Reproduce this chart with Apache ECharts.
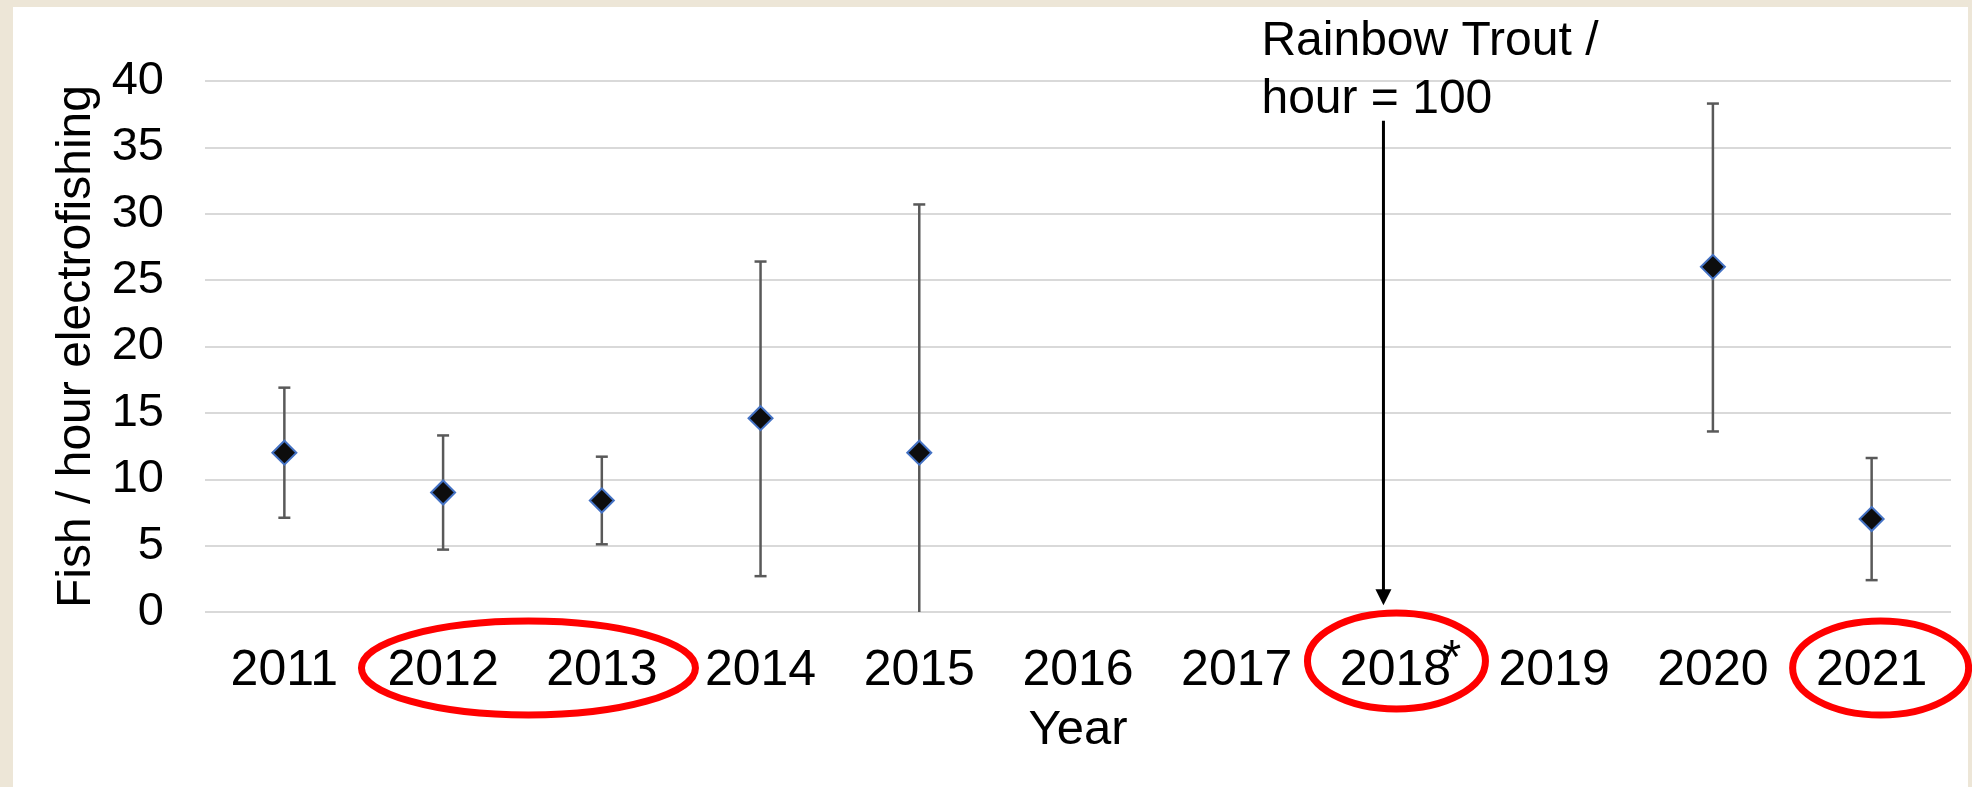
<!DOCTYPE html>
<html>
<head>
<meta charset="utf-8">
<script src="https://cdn.jsdelivr.net/npm/echarts@6/dist/echarts.min.js"></script>
<style>
  html, body { margin: 0; padding: 0; }
  #chart { width: 1972px; height: 787px; }
</style>
</head>
<body>
<div id="chart"></div>
<script>
// data
var years = ['2011', '2012', '2013', '2014', '2015', '2016', '2017', '2018', '2019', '2020', '2021'];
var meanCatch  = [12.0, 9.0, 8.4, 14.6, 12.0, null, null, null, null, 26.0, 7.0];
var upperCatch = [16.9, 13.3, 11.7, 26.4, 30.7, null, null, null, null, 38.3, 11.6];
var lowerCatch = [7.1, 4.7, 5.1, 2.7, 0, null, null, null, null, 13.6, 2.4];
var yMin = 0, yMax = 40, yStep = 5;
var noteYear = '2018';
var noteValue = 37;
var noteText = 'Rainbow Trout /\nhour = 100';

var FONT = '"Liberation Sans", Arial, sans-serif';

var chart = echarts.init(document.getElementById('chart'));

var errorData = [];
years.forEach(function (y, i) {
  if (meanCatch[i] != null) errorData.push([i, lowerCatch[i], upperCatch[i]]);
});

var option = {
  backgroundColor: '#ede6d7',
  animation: false,
  textStyle: { fontFamily: FONT, color: '#000' },
  grid: { left: 205, right: 21, top: 81, bottom: 175 },
  xAxis: {
    type: 'category',
    data: years,
    name: 'Year',
    nameLocation: 'middle',
    nameGap: 94,
    nameTextStyle: { fontSize: 49, color: '#000', fontFamily: FONT },
    axisLine: { show: false },
    axisTick: { show: false },
    axisLabel: { fontSize: 50, color: '#000', margin: 34, interval: 0, fontFamily: FONT }
  },
  yAxis: {
    type: 'value',
    min: yMin,
    max: yMax,
    interval: yStep,
    name: 'Fish / hour electrofishing',
    nameLocation: 'middle',
    nameGap: 103,
    nameTextStyle: { fontSize: 48, color: '#000', fontFamily: FONT },
    axisLine: { show: false },
    axisTick: { show: false },
    axisLabel: { fontSize: 47, color: '#000', margin: 41, fontFamily: FONT },
    splitLine: { lineStyle: { color: '#d9d9d9', width: 2 } }
  },
  series: [
    {
      type: 'custom',
      name: 'range',
      data: errorData,
      encode: { x: 0, y: [1, 2] },
      z: 3,
      renderItem: function (params, api) {
        var i = api.value(0);
        var lo = api.value(1);
        var hi = api.value(2);
        var top = api.coord([i, hi]);
        var bot = api.coord([i, lo]);
        var cap = 6;
        var st = { stroke: '#595959', lineWidth: 2.5 };
        var kids = [
          { type: 'line', shape: { x1: top[0], y1: top[1], x2: bot[0], y2: bot[1] }, style: st },
          { type: 'line', shape: { x1: top[0] - cap, y1: top[1], x2: top[0] + cap, y2: top[1] }, style: st }
        ];
        if (lo > 0) {
          kids.push({ type: 'line', shape: { x1: bot[0] - cap, y1: bot[1], x2: bot[0] + cap, y2: bot[1] }, style: st });
        }
        return { type: 'group', children: kids };
      }
    },
    {
      type: 'scatter',
      name: 'mean',
      data: meanCatch.map(function (v) { return v == null ? '-' : v; }),
      symbol: 'diamond',
      symbolSize: 24,
      z: 5,
      itemStyle: { color: '#0d0d0d', borderColor: '#4472c4', borderWidth: 2, opacity: 1 }
    }
  ]
};

chart.setOption(option);

// annotations placed through the chart's own scales
var px = function (cat, val) { return chart.convertToPixel({ gridIndex: 0 }, [cat, val]); };
var noteTop = px(noteYear, noteValue);
var noteTip = px(noteYear, 0.5);
var arrowX = noteTop[0] - 12;
var base = px(years[0], 0)[1];
var p12 = px('2012', 0), p13 = px('2013', 0), p18 = px('2018', 0), p21 = px('2021', 0);
var ring = { fill: 'none', stroke: '#ff0000', lineWidth: 7 };

chart.setOption({
  graphic: [
    { type: 'rect', silent: true, z: -10, shape: { x: 13, y: 7, width: 1955, height: 790 }, style: { fill: '#ffffff' } },
    { type: 'line', silent: true, z: 10, shape: { x1: arrowX, y1: noteTop[1], x2: arrowX, y2: noteTip[1] - 14 }, style: { stroke: '#000', lineWidth: 3 } },
    { type: 'polygon', silent: true, z: 10, shape: { points: [[arrowX - 8, noteTip[1] - 16], [arrowX + 8, noteTip[1] - 16], [arrowX, noteTip[1]]] }, style: { fill: '#000' } },
    { type: 'text', silent: true, z: 10, x: arrowX - 122, y: 13, style: { text: noteText, font: '48px ' + FONT, lineHeight: 58, fill: '#000', textVerticalAlign: 'top' } },
    { type: 'text', silent: true, z: 10, x: p18[0] + 47, y: 636, style: { text: '*', font: '48px ' + FONT, fill: '#000', textVerticalAlign: 'top' } },
    { type: 'ellipse', silent: true, z: 10, shape: { cx: (p12[0] + p13[0]) / 2 + 6, cy: base + 56, rx: 167, ry: 47 }, style: ring },
    { type: 'ellipse', silent: true, z: 10, shape: { cx: p18[0] + 1, cy: base + 49, rx: 89, ry: 48 }, style: ring },
    { type: 'ellipse', silent: true, z: 10, shape: { cx: p21[0] + 9, cy: base + 56, rx: 88, ry: 47 }, style: ring }
  ]
});

window.addEventListener('resize', function () { chart.resize(); });
</script>
</body>
</html>
